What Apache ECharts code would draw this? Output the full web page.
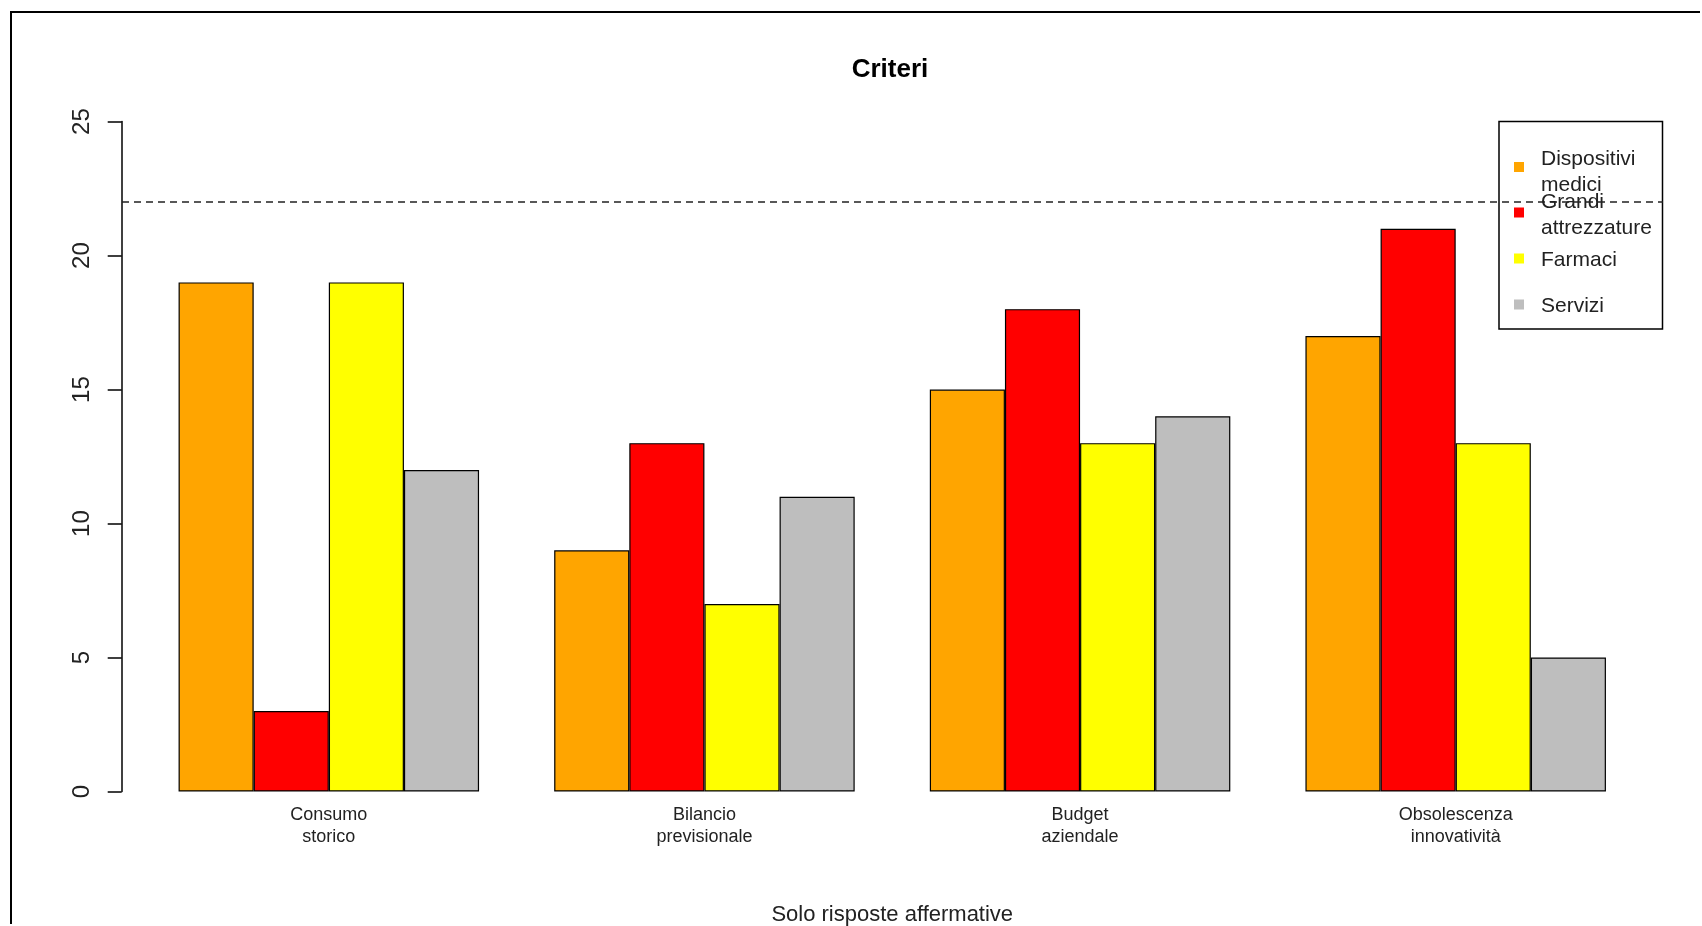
<!DOCTYPE html>
<html>
<head>
<meta charset="utf-8">
<script src="https://cdn.jsdelivr.net/npm/echarts@6/dist/echarts.min.js"></script>
<style>
  html, body { margin: 0; padding: 0; background: #fff; overflow: hidden; width: 1702px; height: 926px; }
  #chart { width: 1702px; height: 926px; position: absolute; left: 0; top: 0; }
  #frame { position: absolute; left: 10px; top: 11px; width: 1690px; height: 913px; box-sizing: border-box;
           border-left: 2.5px solid #000; border-top: 2.5px solid #000; pointer-events: none; z-index: 10; }
</style>
</head>
<body>
<div id="chart"></div>
<div id="frame"></div>
<script>
const categories = ['Consumo\nstorico', 'Bilancio\nprevisionale', 'Budget\naziendale', 'Obsolescenza\ninnovatività'];
const seriesNames = ['Dispositivi\nmedici', 'Grandi\nattrezzature', 'Farmaci', 'Servizi'];
const dispositiviMedici = [19, 9, 15, 17];
const grandiAttrezzature = [3, 13, 18, 21];
const farmaci = [19, 7, 13, 13];
const servizi = [12, 11, 14, 5];
const referenceLevel = 22;
const yMin = 0, yMax = 25, yStep = 5;

const colors = ['#FFA500', '#FF0000', '#FFFF00', '#BEBEBE'];
const values = [dispositiviMedici, grandiAttrezzature, farmaci, servizi];
const FONT = '"Liberation Sans", Arial, sans-serif';

const chart = echarts.init(document.getElementById('chart'), null, { renderer: 'canvas' });

// legend layout (R draws a fixed-spacing legend box)
const legendTops = [146, 189.5, 246.5, 292.5];
const legendLH = [26, 26, 28, 28];
const iconLift = [5, 3, 2, 2];
const iconPath = d => 'path://M0,0h10v10h-10zM0,' + (10 + 2 * d) + 'h0.01v-0.01z';

const option = {
  backgroundColor: '#ffffff',
  animation: false,
  title: {
    text: 'Criteri',
    left: 885,
    textAlign: 'center',
    top: 52,
    textStyle: { fontFamily: FONT, fontWeight: 'bold', fontSize: 26, color: '#000' }
  },
  legend: seriesNames.map((n, i) => ({
    data: [{ name: n, icon: iconPath(iconLift[i]) }],
    orient: 'vertical',
    left: 1514,
    top: legendTops[i],
    padding: 0,
    itemWidth: 10,
    itemHeight: 10 + 2 * iconLift[i],
    selectedMode: false,
    itemStyle: { borderWidth: 0 },
    textStyle: { fontFamily: FONT, fontSize: 21, color: '#222', lineHeight: legendLH[i], padding: [0, 0, 0, 12] }
  })),
  graphic: [{
    type: 'rect',
    shape: { x: 1499, y: 121.5, width: 163.5, height: 207.5 },
    style: { fill: 'none', stroke: '#000', lineWidth: 1.5 },
    z: 1
  }],
  grid: [
    { left: 141, right: 58.5, top: 121.6, bottom: 134.5, containLabel: false, outerBoundsMode: 'none' },
    { left: 122, right: 39, top: 121.6, bottom: 134.5, containLabel: false, outerBoundsMode: 'none' }
  ],
  xAxis: [{
    type: 'category',
    gridIndex: 0,
    data: categories,
    axisLine: { show: false },
    axisTick: { show: false },
    axisLabel: { fontFamily: FONT, fontSize: 18, lineHeight: 22, color: '#222', margin: 13 },
    name: 'Solo risposte affermative',
    nameLocation: 'middle',
    nameGap: 112,
    nameTextStyle: { fontFamily: FONT, fontSize: 22, color: '#222' }
  }, {
    type: 'value', gridIndex: 1, min: 0, max: 1, show: false
  }],
  yAxis: [{
    type: 'value',
    gridIndex: 0,
    min: yMin, max: yMax, interval: yStep,
    offset: 19.3,
    axisLine: { show: true, lineStyle: { color: '#000', width: 1.5 } },
    axisTick: { show: true, length: 14, lineStyle: { color: '#000', width: 1.5 } },
    axisLabel: { rotate: 90, fontFamily: FONT, fontSize: 24, color: '#222', margin: 27 },
    splitLine: { show: false }
  }, {
    type: 'value', gridIndex: 1, min: yMin, max: yMax, show: false
  }],
  series: seriesNames.map((n, i) => ({
    name: n,
    type: 'bar',
    xAxisIndex: 0,
    yAxisIndex: 0,
    data: values[i],
    barGap: 0,
    barCategoryGap: '20%',
    itemStyle: { color: colors[i], borderColor: '#000', borderWidth: 1.2 }
  })).concat([{
    name: 'ref',
    type: 'line',
    xAxisIndex: 1,
    yAxisIndex: 1,
    data: [[0, referenceLevel], [1, referenceLevel]],
    symbol: 'none',
    silent: true,
    z: 5,
    lineStyle: { color: '#222', width: 1.5, type: [7, 5] }
  }])
};
chart.setOption(option);
</script>
</body>
</html>
